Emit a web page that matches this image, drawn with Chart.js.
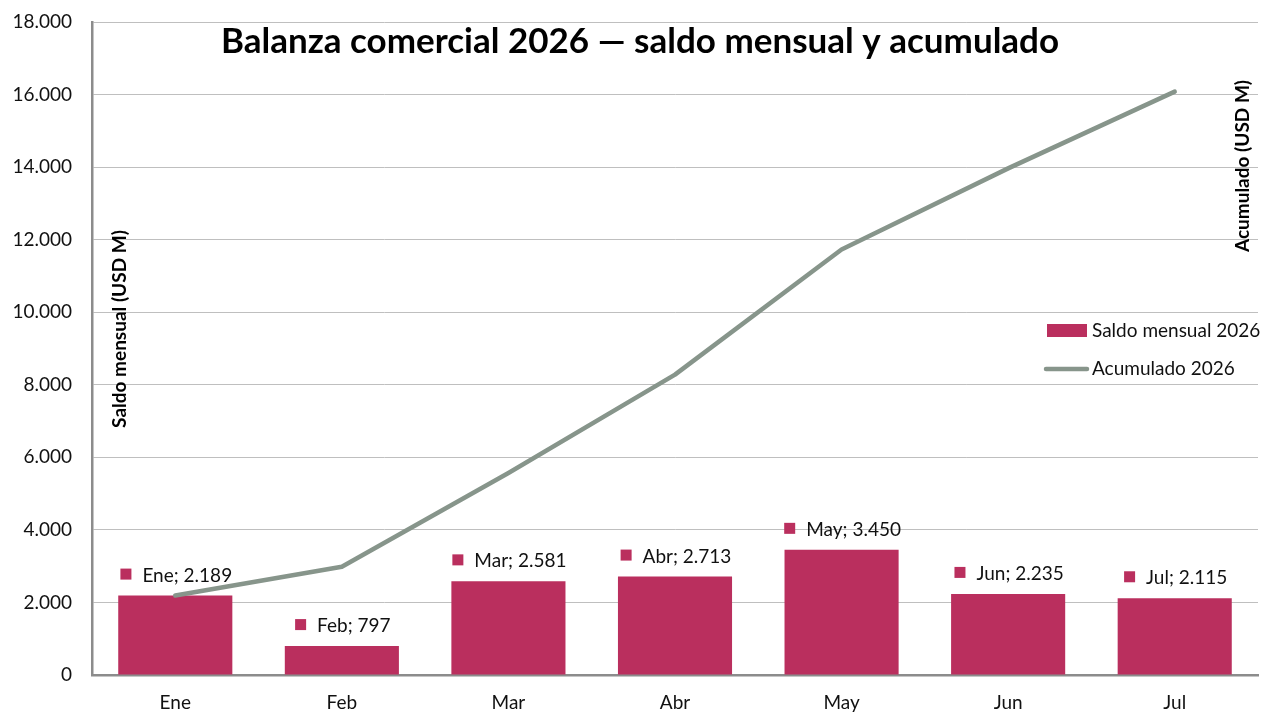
<!DOCTYPE html>
<html>
<head>
<meta charset="utf-8">
<script src="https://cdn.jsdelivr.net/npm/chart.js@4.4.1/dist/chart.umd.min.js"></script>
<style>
  html, body { margin: 0; padding: 0; background: #fff; }
  #wrap { width: 1280px; height: 728px; }
</style>
</head>
<body>
<div id="wrap"><canvas id="balanzaChart" width="1280" height="728"></canvas></div>
<script>
// Data
const months = ['Ene', 'Feb', 'Mar', 'Abr', 'May', 'Jun', 'Jul'];
const saldoMensual = [2189, 797, 2581, 2713, 3450, 2235, 2115];
const acumulado = [2189, 2986, 5567, 8280, 11730, 13965, 16080];
const yMin = 0;
const yMax = 18000;
const yStep = 2000;

const chartTitle = 'Balanza comercial 2026 — saldo mensual y acumulado';
const leftTitle = 'Saldo mensual (USD M)';
const rightTitle = 'Acumulado (USD M)';

const barColor = '#BA2F5E';
const lineColor = '#87958B';
const fontFamily = 'Lato, "Open Sans", sans-serif';

// 12000 -> "12.000"
function fmt(v) {
  return String(Math.round(v)).replace(/\B(?=(\d{3})+(?!\d))/g, '.');
}

// Title, axis titles, legend and data labels drawn on top of the plot
const overlayPlugin = {
  id: 'overlay',
  afterDatasetsDraw: (chart) => {
    const { ctx, scales: { y } } = chart;
    const meta = chart.getDatasetMeta(0);

    // data labels: "Ene; 2.189" with a small square marker
    ctx.save();
    ctx.font = '19px ' + fontFamily;
    ctx.textBaseline = 'middle';
    meta.data.forEach((bar, i) => {
      const text = months[i] + '; ' + fmt(saldoMensual[i]);
      const tw = ctx.measureText(text).width;
      const box = 11, gap = 11;
      const total = box + gap + tw;
      const left = bar.x - total / 2 + 1;
      const cy = y.getPixelForValue(saldoMensual[i]) - 21;
      ctx.fillStyle = barColor;
      ctx.fillRect(left, cy - 6, box, box);
      ctx.fillStyle = '#111';
      ctx.fillText(text, left + box + gap, cy + 1);
    });
    ctx.restore();
  },
  afterDraw: (chart) => {
    const { ctx } = chart;
    ctx.save();

    // chart title
    ctx.fillStyle = '#000';
    ctx.font = 'bold 35px ' + fontFamily;
    ctx.textAlign = 'center';
    ctx.textBaseline = 'middle';
    ctx.fillText(chartTitle, 640, 42);

    // axis titles, rotated, inside the plot
    ctx.font = 'bold 19px ' + fontFamily;
    ctx.save();
    ctx.translate(120, 329);
    ctx.rotate(-Math.PI / 2);
    ctx.fillText(leftTitle, 0, 0);
    ctx.restore();
    ctx.save();
    ctx.translate(1243, 166);
    ctx.rotate(-Math.PI / 2);
    ctx.fillText(rightTitle, 0, 0);
    ctx.restore();

    // legend
    ctx.textAlign = 'left';
    ctx.font = '19px ' + fontFamily;
    ctx.fillStyle = barColor;
    ctx.fillRect(1047, 324, 40, 13);
    ctx.fillStyle = '#111';
    ctx.fillText(chart.data.datasets[0].label, 1092, 331);

    ctx.strokeStyle = lineColor;
    ctx.lineWidth = 4.5;
    ctx.lineCap = 'round';
    ctx.beginPath();
    ctx.moveTo(1046, 369);
    ctx.lineTo(1087, 369);
    ctx.stroke();
    ctx.fillText(chart.data.datasets[1].label, 1092, 369);

    ctx.restore();
  }
};

const ctx = document.getElementById('balanzaChart').getContext('2d');
new Chart(ctx, {
  data: {
    labels: months,
    datasets: [
      {
        type: 'bar',
        label: 'Saldo mensual 2026',
        data: saldoMensual,
        backgroundColor: barColor,
        borderWidth: 0,
        categoryPercentage: 1,
        barPercentage: 0.685,
        order: 2
      },
      {
        type: 'line',
        label: 'Acumulado 2026',
        data: acumulado,
        borderColor: lineColor,
        backgroundColor: lineColor,
        borderWidth: 4.5,
        borderCapStyle: 'round',
        borderJoinStyle: 'round',
        pointRadius: 0,
        tension: 0,
        fill: false,
        order: 1
      }
    ]
  },
  options: {
    responsive: false,
    animation: false,
    devicePixelRatio: 1,
    layout: { padding: { top: 22, right: 22, left: 0, bottom: 0 } },
    plugins: {
      legend: { display: false },
      title: { display: false },
      tooltip: { enabled: false }
    },
    scales: {
      x: {
        grid: { display: false, drawTicks: false },
        border: { color: '#8C8C8C', width: 2.5 },
        ticks: {
          color: '#111',
          padding: 16,
          font: { family: fontFamily, size: 19 }
        },
        afterFit: (scale) => {
          scale.height = 53;
          scale.paddingLeft = 0;
          scale.paddingRight = 0;
        }
      },
      y: {
        min: yMin,
        max: yMax,
        grid: { color: '#BFBFBF', lineWidth: 1, drawTicks: false },
        border: { color: '#8C8C8C', width: 2.5 },
        ticks: {
          stepSize: yStep,
          color: '#111',
          padding: 20,
          font: { family: fontFamily, size: 19 },
          callback: (value) => fmt(value)
        },
        afterFit: (scale) => {
          scale.width = 92;
          scale.paddingTop = 0;
          scale.paddingBottom = 0;
        }
      }
    }
  },
  plugins: [overlayPlugin]
});
</script>
</body>
</html>
